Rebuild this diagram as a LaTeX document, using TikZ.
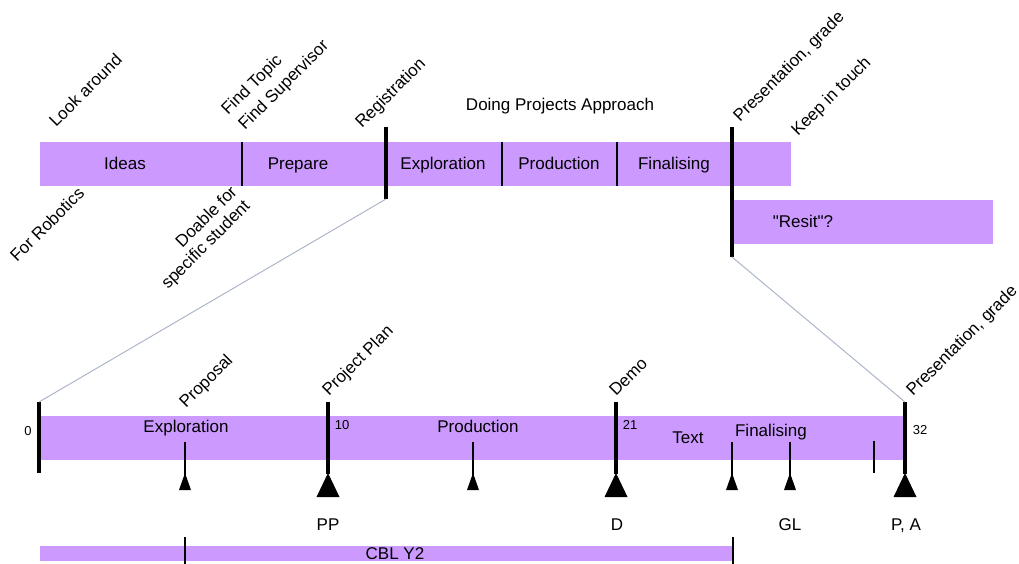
\documentclass[tikz,border=0pt]{standalone}
\usepackage{fontspec}
\setmainfont{Liberation Sans}[Ligatures=TeXOff]
\definecolor{barpurple}{RGB}{204,153,255}
\definecolor{linkgrey}{RGB}{172,182,200}
\begin{document}
\begin{tikzpicture}[x=1pt,y=-1pt,
  txt/.style={inner sep=0pt, text height=12.2pt, text depth=0pt, font=\fontsize{17}{20}\selectfont},
  num/.style={inner sep=0pt, text height=9.3pt, text depth=0pt, font=\fontsize{13}{15}\selectfont},
  rot/.style={inner sep=0pt, font=\fontsize{17}{20}\selectfont, rotate=45},
  rl/.style={rot, anchor=base west},
  rr/.style={rot, anchor=base east},
  barfill/.style={fill=barpurple, draw=none},
  thickbar/.style={line width=3.2pt},
  thinbar/.style={line width=1.6pt},
  stem/.style={line width=1.4pt},
  link/.style={draw=linkgrey, line width=1pt}]
\useasboundingbox (0,0) rectangle (1019,564);
% ---------- top bar ----------
\fill[barfill] (40,142) rectangle (791,186);
\fill[barfill] (733,200) rectangle (993,244);
\draw[thinbar] (242,142) -- (242,186);
\draw[thinbar] (502,142) -- (502,186);
\draw[thinbar] (617,142) -- (617,186);
\draw[thickbar] (386,127) coordinate (regtop) -- (386,199) coordinate (regbot);
\draw[thickbar] (732,127) coordinate (pretop) -- (732,257) coordinate (prebot);
\node[txt] (ideas) at (125,163) {Ideas};
\node[txt] (prepare) at (298,163) {Prepare};
\node[txt] (expl1) at (443,163) {Exploration};
\node[txt] (prod1) at (559,163) {Production};
\node[txt] (fin1) at (674,163) {Finalising};
\node[txt] (resit) at (803,221) {"Resit"?};
\node[txt] (dpa) at (560,104) {Doing Projects Approach};
\node[rl] (look) at (56,128) {Look around};
\node[rl] (ftopic) at (228,116) {Find Topic};
\node[rl] (fsup) at (245,131) {Find Supervisor};
\node[rl] (reg) at (362,129) {Registration};
\node[rl] (pres1) at (740,123) {Presentation, grade};
\node[rl] (keep) at (798,137) {Keep in touch};
\node[rl] (robot) at (17,263) {For Robotics};
\node[rr] (doable) at (238,193) {Doable for};
\node[rr] (specific) at (251,207) {specific student};
% ---------- lower bar ----------
\fill[barfill] (40,416) rectangle (905,460);
\draw[thickbar] (39,402) coordinate (w0top) -- (39,473);
\draw[thickbar] (328,402) -- (328,474);
\draw[thickbar] (616,402) -- (616,474);
\draw[thickbar] (905,402) coordinate (w32top) -- (905,474);
\foreach \x/\n in {328/pp,616/d,905/pa}{
  \fill (\x,473) coordinate (big\n) -- (\x+11.5,497) -- (\x-11.5,497) -- cycle;
}
\foreach \x in {185,473,732,790}{
  \draw[stem] (\x,442) -- (\x,475);
  \fill (\x,473) -- (\x+6,490) -- (\x-6,490) -- cycle;
}
\draw[stem] (874,441) -- (874,473);
\node[num] (n0) at (28,431) {0};
\node[num] (n10) at (342,425) {10};
\node[num] (n21) at (630,425) {21};
\node[num] (n32) at (920,430) {32};
\node[txt] (expl2) at (186,426) {Exploration};
\node[txt] (prod2) at (478,426) {Production};
\node[txt] (text) at (688,437) {Text};
\node[txt] (fin2) at (771,430) {Finalising};
\node[txt] (pp) at (328,524) {PP};
\node[txt] (dd) at (617,524) {D};
\node[txt] (gl) at (790,524) {GL};
\node[txt] (pa) at (906,524) {P, A};
\node[rl] (proposal) at (186,409) {Proposal};
\node[rl] (pplan) at (329,397) {Project Plan};
\node[rl] (demo) at (616,397) {Demo};
\node[rl] (pres2) at (913,397) {Presentation, grade};
% ---------- CBL bar ----------
\fill[barfill] (40,546) rectangle (733,561);
\draw[stem] (185,537) -- (185,564);
\draw[stem] (733,537) -- (733,564);
\node[txt] (cbl) at (395,553) {CBL Y2};
% ---------- zoom links ----------
\draw[link] (regbot) -- (w0top);
\draw[link] (prebot) -- (w32top);
\end{tikzpicture}
\end{document}
